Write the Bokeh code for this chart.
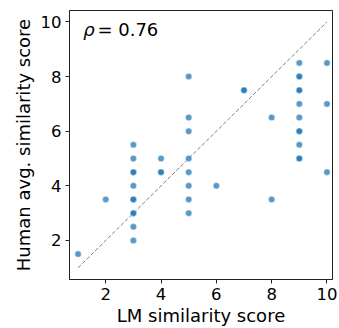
from bokeh.plotting import figure
from bokeh.layouts import column
from bokeh.models import Range1d, FixedTicker, Label, ColumnDataSource
from bokeh.embed import file_html
from bokeh.resources import INLINE

# data
lm_score = [1,
            2,
            3, 3, 3, 3, 3, 3, 3, 3, 3, 3, 3,
            4, 4, 4,
            5, 5, 5, 5, 5, 5, 5, 5,
            6,
            7, 7,
            8, 8,
            9, 9, 9, 9, 9, 9, 9, 9, 9, 9, 9, 9,
            10, 10, 10]
human_score = [1.5,
               3.5,
               5.5, 5, 4.5, 4.5, 4, 3.5, 3.5, 3, 3, 2.5, 2,
               5, 4.5, 4.5,
               8, 6.5, 6, 5, 4.5, 4, 3.5, 3,
               4,
               7.5, 7.5,
               6.5, 3.5,
               8.5, 8, 8, 7.5, 7.5, 7, 6.5, 6, 6, 5.5, 5, 5,
               8.5, 7, 4.5]
diag = [1, 10]
ticks = [2, 4, 6, 8, 10]
rho_text = "= 0.76"
x_label = "LM similarity score"
y_label = "Human avg. similarity score"

FONT = "DejaVu Sans"

p = figure(frame_width=263, frame_height=271, output_backend="svg", toolbar_location=None,
           x_range=Range1d(0.69, 10.2), y_range=Range1d(0.57, 10.42),
           min_border_left=69, min_border_right=7, min_border_top=10, min_border_bottom=40)

p.grid.visible = False
p.outline_line_color = "#222222"
p.outline_line_width = 1
p.background_fill_color = "white"
p.border_fill_color = "white"

for ax in (p.xaxis[0], p.yaxis[0]):
    ax.ticker = FixedTicker(ticks=ticks)
    ax.minor_tick_line_color = None
    ax.major_tick_in = 0
    ax.major_tick_out = 4
    ax.major_tick_line_color = "#222222"
    ax.axis_line_color = "#222222"
    ax.major_label_text_font = FONT
    ax.major_label_text_font_size = "16.5px"
    ax.major_label_text_color = "black"
    ax.axis_label_text_font = FONT
    ax.axis_label_text_font_size = "18px"
    ax.axis_label_text_font_style = "normal"
    ax.axis_label_text_color = "black"
    ax.major_label_standoff = 4

p.xaxis.axis_label = x_label
p.xaxis.axis_label_standoff = 2
p.yaxis.axis_label = y_label
p.yaxis.axis_label_standoff = 4
p.yaxis.major_label_orientation = "horizontal"

p.line(diag, diag, line_color="gray", line_dash="4 2", line_width=1)

src = ColumnDataSource(dict(x=lm_score, y=human_score))
p.scatter("x", "y", source=src, size=6.5, fill_color="#1f77b4", fill_alpha=0.75,
          line_color="white", line_width=0.6, line_alpha=0.8)

p.add_layout(Label(x=1.19, y=9.74, text="ρ", text_font=FONT, text_font_style="italic",
                   text_font_size="18px", text_baseline="alphabetic", text_color="black"))
p.add_layout(Label(x=1.70, y=9.74, text=rho_text, text_font=FONT,
                   text_font_size="18px", text_baseline="alphabetic", text_color="black"))

page = column(p, width=339, height=328, styles={"overflow": "hidden"})

open("out.html", "w").write(file_html(page, INLINE))
